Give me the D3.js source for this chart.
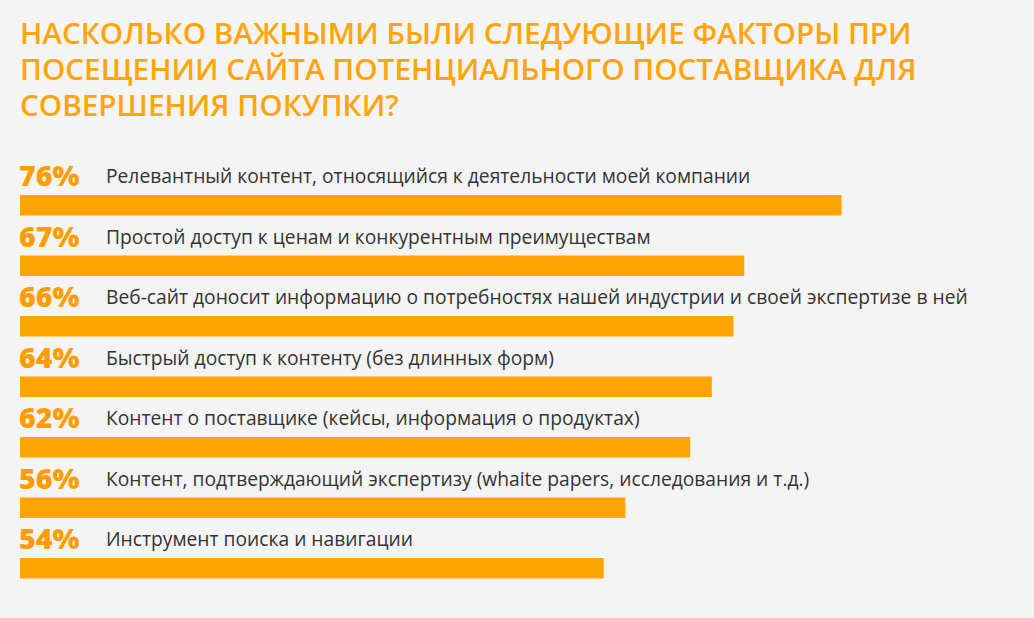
<!DOCTYPE html>
<html>
<head>
<meta charset="utf-8">
<script src="https://cdn.jsdelivr.net/npm/d3@7"></script>
<style>
  html, body { margin: 0; padding: 0; background: #f5f4f5; }
  svg { display: block; }
</style>
</head>
<body>
<svg id="chart" width="1034" height="618"></svg>
<script>
const titleLines = [
  "НАСКОЛЬКО ВАЖНЫМИ БЫЛИ СЛЕДУЮЩИЕ ФАКТОРЫ ПРИ",
  "ПОСЕЩЕНИИ САЙТА ПОТЕНЦИАЛЬНОГО ПОСТАВЩИКА ДЛЯ",
  "СОВЕРШЕНИЯ ПОКУПКИ?"
];
const categories = [
  "Релевантный контент, относящийся к деятельности моей компании",
  "Простой доступ к ценам и конкурентным преимуществам",
  "Веб-сайт доносит информацию о потребностях нашей индустрии и своей экспертизе в ней",
  "Быстрый доступ к контенту (без длинных форм)",
  "Контент о поставщике (кейсы, информация о продуктах)",
  "Контент, подтверждающий экспертизу (whaite papers, исследования и т.д.)",
  "Инструмент поиска и навигации"
];
const values = [76, 67, 66, 64, 62, 56, 54];

const svg = d3.select("#chart");
const W = 1034, H = 618;
svg.append("rect").attr("width", W).attr("height", H).attr("fill", "#f5f4f5");

const orange = "#ffa400";

// Title (one text element, three lines)
const title = svg.append("text")
  .attr("fill", "#ffa50a")
  .attr("font-family", "'Open Sans', sans-serif")
  .attr("font-weight", 600)
  .attr("font-size", 28);
const tspans = title.selectAll("tspan").data(titleLines).join("tspan")
  .attr("x", 20)
  .attr("y", (d, i) => 44 + i * 36)
  .text(d => d);
{
  const w = tspans.nodes()[0].getComputedTextLength();
  title.attr("font-size", 28 * 892 / w);
}

const x = d3.scaleLinear().domain([0, 100]).range([20, 1101]);
const y = d3.scalePoint().domain(categories).range([195, 195 + 6 * 60.5]);

const rows = svg.append("g").selectAll("g").data(categories.map((c, i) => ({c, v: values[i]})))
  .join("g");

rows.append("rect")
  .attr("x", x(0))
  .attr("y", d => y(d.c))
  .attr("width", d => x(d.v) - x(0))
  .attr("height", 20.5)
  .attr("fill", orange);

rows.append("text")
  .attr("x", 19)
  .attr("y", d => y(d.c) - 9)
  .attr("fill", "#ff9c00")
  .attr("font-family", "'Open Sans', sans-serif")
  .attr("font-weight", 800)
  .attr("font-size", 28.5)
  .text(d => d.v + "%");

const labels = rows.append("text")
  .attr("x", 106)
  .attr("y", d => y(d.c) - 12)
  .attr("fill", "#333333")
  .attr("font-family", "'Open Sans', sans-serif")
  .attr("font-weight", 400)
  .attr("font-size", 19)
  .text(d => d.c);
{
  const w = labels.nodes()[2].getComputedTextLength();
  labels.attr("font-size", 19 * 862 / w);
}
</script>
</body>
</html>
